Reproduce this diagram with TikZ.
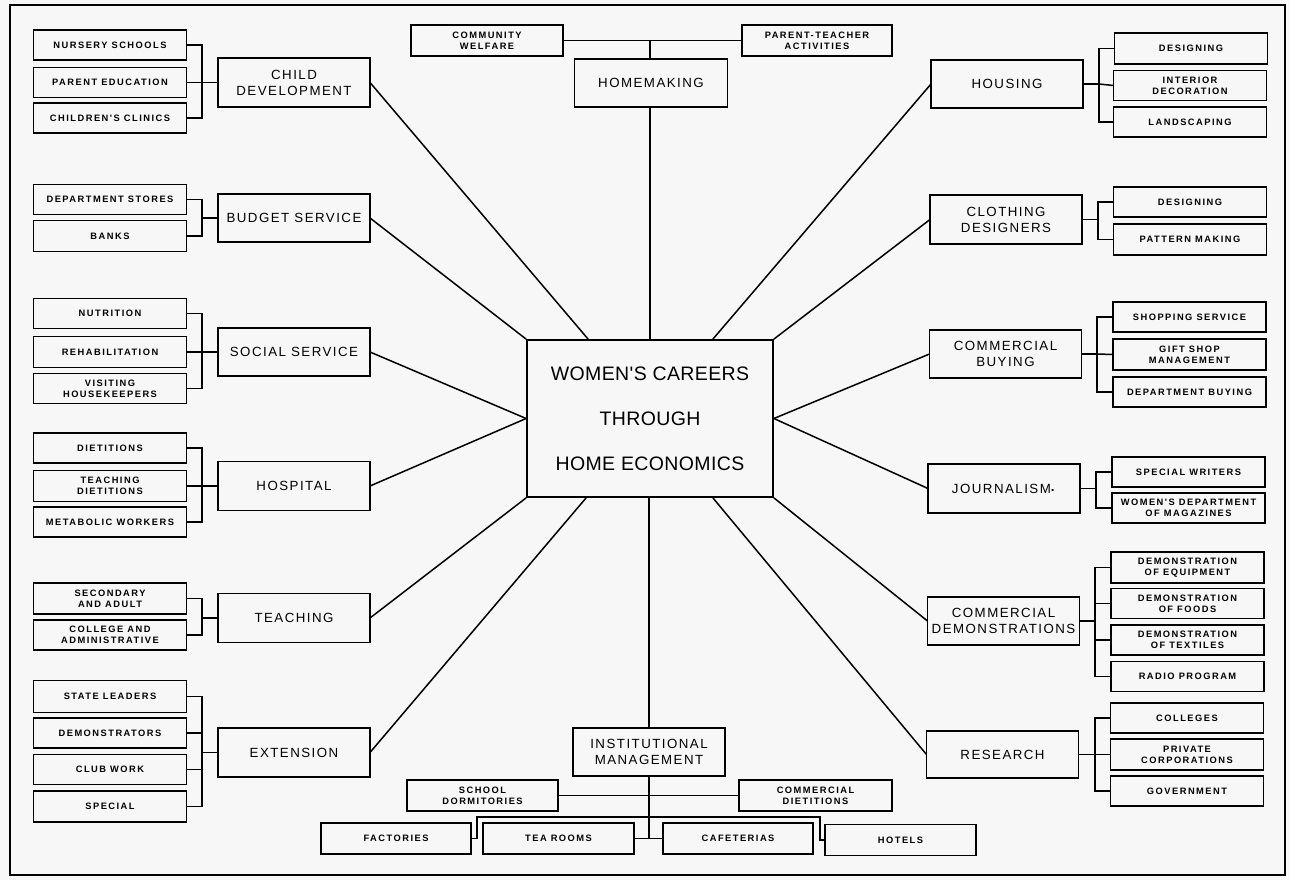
\documentclass[tikz,border=0pt]{standalone}
\usepackage{fontspec}
\setmainfont{Liberation Sans}
\newfontfamily\mainlab[LetterSpace=11]{Liberation Sans}
\newfontfamily\sublab[LetterSpace=16]{Liberation Sans}
\newfontfamily\ctrlab[LetterSpace=2]{Liberation Sans}
\usetikzlibrary{calc}
\begin{document}
\begin{tikzpicture}[x=1pt,y=-1pt,
  mainbox/.style={draw, line width=1.7pt, minimum width=152pt, minimum height=48pt,
    inner sep=0pt, outer sep=0pt, align=center, font=\mainlab\fontsize{13.3}{16}\selectfont},
  subbox/.style={draw, line width=1.6pt, minimum width=153pt, minimum height=30pt,
    inner sep=0pt, outer sep=0pt, align=center, font=\sublab\bfseries\fontsize{9.3}{11}\selectfont},
  link/.style={line width=1.5pt, line join=miter},
  frame/.style={line width=2.8pt}
]
\fill[black!3] (0,0) rectangle (1290,880);
\useasboundingbox (0,0) rectangle (1290,880);
\draw[frame] (10,5) rectangle (1285,875);

% centre
\node[draw, line width=1.8pt, minimum width=246pt, minimum height=157pt, inner sep=0pt,
  align=center, font=\ctrlab\fontsize{19.5}{45}\selectfont] (ctr) at (650,418.5)
  {WOMEN'S CAREERS\\THROUGH\\HOME ECONOMICS};

% ---------- left side ----------
\node[subbox] (ns) at (110,45) {NURSERY SCHOOLS};
\node[subbox] (pe) at (110,82.5) {PARENT EDUCATION};
\node[subbox] (cc) at (110,118) {CHILDREN'S CLINICS};
\node[mainbox, minimum height=49pt] (cd) at (294,82.5) {CHILD\\DEVELOPMENT};
\coordinate (bcd) at (202,82.5);
\draw[link] (ns.east) -| (bcd) -- (cd.west);
\draw[link] (pe.east) -- (bcd);
\draw[link] (cc.east) -| (bcd);

\node[subbox] (ds) at (110,199.5) {DEPARTMENT STORES};
\node[subbox, minimum height=31pt] (bk) at (110,236) {BANKS};
\node[mainbox] (bs) at (294,218) {BUDGET SERVICE};
\coordinate (bbs) at (202,218);
\draw[link] (ds.east) -| (bbs) -- (bs.west);
\draw[link] (bk.east) -| (bbs);

\node[subbox] (nu) at (110,313.5) {NUTRITION};
\node[subbox, minimum height=31pt] (rh) at (110,352) {REHABILITATION};
\node[subbox] (vh) at (110,388.5) {VISITING\\HOUSEKEEPERS};
\node[mainbox] (ss) at (294,352) {SOCIAL SERVICE};
\coordinate (bss) at (202,352);
\draw[link] (nu.east) -| (bss) -- (ss.west);
\draw[link] (rh.east) -- (bss);
\draw[link] (vh.east) -| (bss);

\node[subbox] (dt) at (110,448) {DIETITIONS};
\node[subbox, minimum height=31pt] (td) at (110,486) {TEACHING\\DIETITIONS};
\node[subbox] (mw) at (110,522) {METABOLIC WORKERS};
\node[mainbox, minimum height=49pt] (hp) at (294,486) {HOSPITAL};
\coordinate (bhp) at (202,486);
\draw[link] (dt.east) -| (bhp) -- (hp.west);
\draw[link] (td.east) -- (bhp);
\draw[link] (mw.east) -| (bhp);

\node[subbox, minimum height=31pt] (sa) at (110,598.5) {SECONDARY\\AND ADULT};
\node[subbox] (ca) at (110,635) {COLLEGE AND\\ADMINISTRATIVE};
\node[mainbox, minimum height=49pt] (tc) at (294,618) {TEACHING};
\coordinate (btc) at (202,618);
\draw[link] (sa.east) -| (btc) -- (tc.west);
\draw[link] (ca.east) -| (btc);

\node[subbox, minimum height=32pt] (sl) at (110,696.5) {STATE LEADERS};
\node[subbox] (dm) at (110,733) {DEMONSTRATORS};
\node[subbox] (cw) at (110,769.5) {CLUB WORK};
\node[subbox, minimum height=31pt] (sp) at (110,806.5) {SPECIAL};
\node[mainbox, minimum height=49pt] (ex) at (294,752.5) {EXTENSION};
\coordinate (bex) at (202,752.5);
\draw[link] (sl.east) -| (bex) -- (ex.west);
\draw[link] (dm.east) -| (bex);
\draw[link] (cw.east) -| (bex);
\draw[link] (sp.east) -| (bex);

% ---------- top ----------
\node[subbox, minimum width=152pt, minimum height=31pt] (cwf) at (487,40.5) {COMMUNITY\\WELFARE};
\node[subbox, minimum width=150pt, minimum height=31pt] (pta) at (817,40.5) {PARENT-TEACHER\\ACTIVITIES};
\node[mainbox, minimum width=153pt] (hm) at (651,83) {HOMEMAKING};
\draw[link] (cwf.east) -- (pta.west);
\draw[link] (hm.north -| ctr.north) -- (ctr.north |- cwf.east);
\draw[link] (hm.south -| ctr.north) -- (ctr.north);

% ---------- right side ----------
\node[mainbox] (hs) at (1007,84) {HOUSING};
\node[subbox, minimum height=31pt] (de1) at (1191,48.5) {DESIGNING};
\node[subbox] (idc) at (1190,85.5) {INTERIOR\\DECORATION};
\node[subbox] (ls) at (1190,122) {LANDSCAPING};
\coordinate (bhs) at (1099,84);
\draw[link] (hs.east) -- (bhs);
\draw[link] (de1.west) -| (bhs);
\draw[link] (idc.west) -- (bhs);
\draw[link] (ls.west) -| (bhs);

\node[mainbox, minimum height=49pt] (cl) at (1006,219.5) {CLOTHING\\DESIGNERS};
\node[subbox] (de2) at (1190,202) {DESIGNING};
\node[subbox, minimum height=31pt] (pm) at (1190,239.5) {PATTERN MAKING};
\coordinate (bcl) at (1098,219.5);
\draw[link] (cl.east) -- (bcl);
\draw[link] (de2.west) -| (bcl);
\draw[link] (pm.west) -| (bcl);

\node[mainbox] (cb) at (1005.5,354) {COMMERCIAL\\BUYING};
\node[subbox] (sh) at (1189.5,317) {SHOPPING SERVICE};
\node[subbox, minimum height=31pt] (gs) at (1189.5,354.5) {GIFT SHOP\\MANAGEMENT};
\node[subbox] (db) at (1189.5,392) {DEPARTMENT BUYING};
\coordinate (bcb) at (1097,354);
\draw[link] (cb.east) -- (bcb);
\draw[link] (sh.west) -| (bcb);
\draw[link] (gs.west) -- (bcb);
\draw[link] (db.west) -| (bcb);

\node[mainbox, minimum height=49pt] (jo) at (1004,488.5) {JOURNALISM\raisebox{0.25ex}{\textbf{.}}};
\node[subbox] (sw) at (1188.5,472) {SPECIAL WRITERS};
\node[subbox] (wd) at (1188.5,508) {WOMEN'S DEPARTMENT\\OF MAGAZINES};
\coordinate (bjo) at (1096,488.5);
\draw[link] (jo.east) -- (bjo);
\draw[link] (sw.west) -| (bjo);
\draw[link] (wd.west) -| (bjo);

\node[mainbox] (cdm) at (1003.5,621) {COMMERCIAL\\DEMONSTRATIONS};
\node[subbox, minimum height=31pt] (deq) at (1187.5,567.5) {DEMONSTRATION\\OF EQUIPMENT};
\node[subbox] (dfo) at (1187.5,603.5) {DEMONSTRATION\\OF FOODS};
\node[subbox] (dte) at (1187.5,640) {DEMONSTRATION\\OF TEXTILES};
\node[subbox] (rp) at (1187.5,676.5) {RADIO PROGRAM};
\coordinate (bcdm) at (1095,621);
\draw[link] (cdm.east) -- (bcdm);
\draw[link] (deq.west) -| (bcdm);
\draw[link] (dfo.west) -| (bcdm);
\draw[link] (dte.west) -| (bcdm);
\draw[link] (rp.west) -| (bcdm);

\node[mainbox, minimum height=47pt] (rs) at (1002.5,754.5) {RESEARCH};
\node[subbox] (co) at (1187,718) {COLLEGES};
\node[subbox, minimum height=31pt] (pc) at (1187,754.5) {PRIVATE\\CORPORATIONS};
\node[subbox] (gv) at (1187,791) {GOVERNMENT};
\coordinate (brs) at (1095,754.5);
\draw[link] (rs.east) -- (brs);
\draw[link] (co.west) -| (brs);
\draw[link] (pc.west) -- (brs);
\draw[link] (gv.west) -| (brs);

% ---------- bottom ----------
\node[mainbox] (im) at (649,752) {INSTITUTIONAL\\MANAGEMENT};
\node[subbox, minimum width=151pt, minimum height=31pt] (sd) at (482.5,795.5) {SCHOOL\\DORMITORIES};
\node[subbox, minimum width=153pt, minimum height=31pt] (cdt) at (815.5,795.5) {COMMERCIAL\\DIETITIONS};
\node[subbox, minimum width=150pt, minimum height=31pt] (fa) at (396,838.5) {FACTORIES};
\node[subbox, minimum width=151pt, minimum height=31pt] (tr) at (558.5,838.5) {TEA ROOMS};
\node[subbox, minimum width=150pt, minimum height=31pt] (cf) at (738,838.5) {CAFETERIAS};
\node[subbox, minimum width=151pt, minimum height=31pt] (ho) at (900.5,840) {HOTELS};
\coordinate (jb) at (649,838.5);
\coordinate (fl) at (477,817);
\coordinate (fr) at (820,817);
\draw[link] (im.south) -- (jb);
\draw[link] (tr.east) -- (jb) -- (cf.west);
\draw[link] (sd.east) -- (cdt.west);
\draw[link] (fa.east) -| (fl) -- (fr) |- (ho.west);

% ---------- spokes ----------
\draw[link] (ctr.south -| im.north) -- (im.north);
\draw[link] (cd.east) -- ($(ctr.north west)+(62,0)$);
\draw[link] (bs.east) -- (ctr.north west);
\draw[link] (ss.east) -- (ctr.west);
\draw[link] (hp.east) -- (ctr.west);
\draw[link] (tc.east) -- (ctr.south west);
\draw[link] (ex.east) -- ($(ctr.south west)+(60,0)$);
\draw[link] (hs.west) -- ($(ctr.north east)+(-61,0)$);
\draw[link] (cl.west) -- (ctr.north east);
\draw[link] (cb.west) -- (ctr.east);
\draw[link] (jo.west) -- (ctr.east);
\draw[link] (cdm.west) -- (ctr.south east);
\draw[link] (rs.west) -- ($(ctr.south east)+(-61,0)$);
\end{tikzpicture}
\end{document}
